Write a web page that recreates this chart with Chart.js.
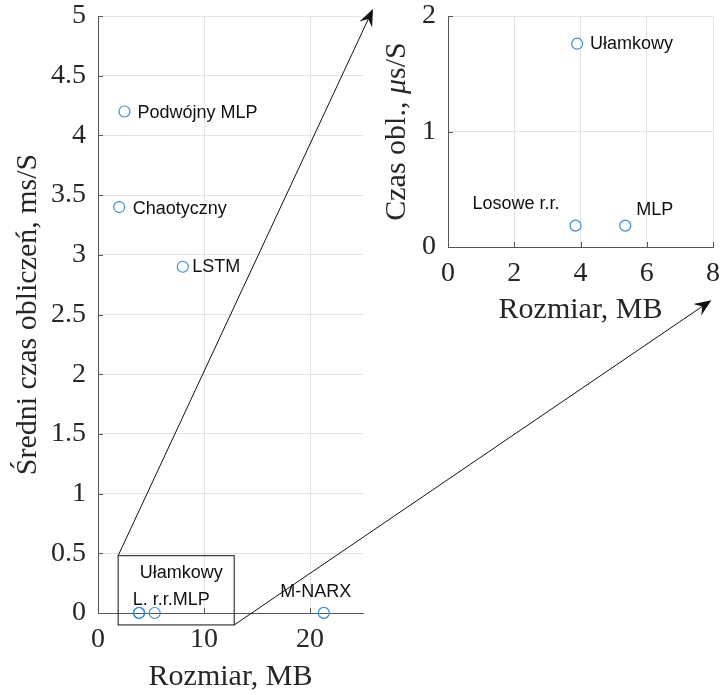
<!DOCTYPE html>
<html>
<head>
<meta charset="utf-8">
<script src="https://cdn.jsdelivr.net/npm/chart.js@4.4.1/dist/chart.umd.min.js"></script>
<style>
  body { margin: 0; background: #fff; }
  #wrap { position: relative; width: 720px; height: 695px; }
  #mainChart { position: absolute; left: 0; top: 0; }
  #insetChart { position: absolute; left: 360px; top: 0; }
</style>
</head>
<body>
<div id="wrap">
  <canvas id="mainChart" width="720" height="695"></canvas>
  <canvas id="insetChart" width="360" height="330"></canvas>
</div>
<script>
// models: size [MB] and mean computation time [ms/S]
var models  = ['Podwójny MLP', 'Chaotyczny', 'LSTM', 'Ułamkowy', 'Losowe r.r.', 'MLP', 'M-NARX'];
var sizesMB = [2.5, 2.0, 8.0, 3.9, 3.85, 5.35, 21.3];
var timesMs = [4.2, 3.4, 2.9, 0.00176, 0.000185, 0.000185, 0.001];

var mainXTicks  = [0, 10, 20];
var mainYTicks  = [0, 0.5, 1, 1.5, 2, 2.5, 3, 3.5, 4, 4.5, 5];
var insetXTicks = [0, 2, 4, 6, 8];
var insetYTicks = [0, 1, 2];

// text annotations, [text, x, y] in data units (left-anchored)
var mainLabels = [
    ['Podwójny MLP', 3.72, 4.19],
    ['Chaotyczny', 3.28, 3.38],
    ['LSTM', 8.88, 2.9],
    ['Ułamkowy', 3.94, 0.333],
    ['L. r.r.MLP', 3.28, 0.106],
    ['M-NARX', 17.2, 0.176]
];
var insetLabels = [
    ['Ułamkowy', 4.29, 1.76],
    ['Losowe r.r.', 0.74, 0.37],
    ['MLP', 5.68, 0.32]
];

// zoomed region drawn as a box on the main axes: [xmin, xmax, ymin, ymax]
var zoomBox = [1.9, 12.85, -0.1, 0.48];
// arrow tips in normalized figure units (from top-left)
var arrowTips = [[0.518, 0.013], [0.988, 0.432]];

var serif = "'Liberation Serif', 'Times New Roman', serif";
var sans = "'Liberation Sans', Arial, sans-serif";
var ink = '#262626';
var markerColor = '#3b8cd3';

// points of the inset: the fast models, converted to µs
var insetX = [], insetY = [];
sizesMB.forEach(function(s, i){
    if (s <= 8 && timesMs[i] < 0.01) {
        insetX.push(s);
        insetY.push(timesMs[i] * 1000);
    }
});

function toPoints(xs, ys){
    return xs.map(function(x, i){ return {x: x, y: ys[i]}; });
}

function axisOpts(min, max, tickList, size, isY, titleText, titlePad){
    return {
        type: 'linear',
        min: min,
        max: max,
        afterBuildTicks: function(scale){
            scale.ticks = tickList.map(function(v){ return {value: v}; });
        },
        afterFit: function(scale){
            if (isY) scale.width = size; else scale.height = size;
            // plot area is set by layout padding only
            scale.paddingTop = scale.paddingBottom = 0;
            scale.paddingLeft = scale.paddingRight = 0;
        },
        grid: { color: '#e3e3e3', lineWidth: 1, drawTicks: false },
        border: { color: '#555', width: 1 },
        ticks: {
            color: ink,
            padding: isY ? 12 : 13,
            font: { family: serif, size: 28, lineHeight: 1 },
            maxRotation: 0,
            callback: function(v){ return String(v); }
        },
        title: {
            display: !!titleText,
            text: titleText,
            color: ink,
            font: { family: serif, size: 30, lineHeight: 1.2 },
            padding: titlePad
        }
    };
}

// short tick marks pointing into the plot
var inwardTicks = {
    id: 'inwardTicks',
    beforeDatasetsDraw: function(chart){
        var ctx = chart.ctx, a = chart.chartArea;
        var xs = chart.scales.x, ys = chart.scales.y;
        ctx.save();
        ctx.strokeStyle = '#555';
        ctx.lineWidth = 1;
        ctx.beginPath();
        xs.ticks.forEach(function(t){
            var px = Math.round(xs.getPixelForValue(t.value)) + 0.5;
            ctx.moveTo(px, a.bottom);
            ctx.lineTo(px, a.bottom - 5);
        });
        ys.ticks.forEach(function(t){
            var py = Math.round(ys.getPixelForValue(t.value)) + 0.5;
            ctx.moveTo(a.left, py);
            ctx.lineTo(a.left + 5, py);
        });
        ctx.stroke();
        ctx.restore();
    }
};

function drawLabels(chart, labels){
    var ctx = chart.ctx;
    var xs = chart.scales.x, ys = chart.scales.y;
    ctx.save();
    ctx.fillStyle = '#111';
    ctx.font = '18px ' + sans;
    ctx.textAlign = 'left';
    ctx.textBaseline = 'middle';
    labels.forEach(function(l){
        ctx.fillText(l[0], xs.getPixelForValue(l[1]), ys.getPixelForValue(l[2]));
    });
    ctx.restore();
}

function drawArrow(ctx, x0, y0, x1, y1){
    var ang = Math.atan2(y1 - y0, x1 - x0);
    var len = 17, half = 7, notch = 11;
    var c = Math.cos(ang), s = Math.sin(ang);
    ctx.beginPath();
    ctx.moveTo(x0, y0);
    ctx.lineTo(x1 - c * notch, y1 - s * notch);
    ctx.stroke();
    ctx.beginPath();
    ctx.moveTo(x1, y1);
    ctx.lineTo(x1 - c * len - s * half, y1 - s * len + c * half);
    ctx.lineTo(x1 - c * notch, y1 - s * notch);
    ctx.lineTo(x1 - c * len + s * half, y1 - s * len - c * half);
    ctx.closePath();
    ctx.fill();
}

var mainAnnotations = {
    id: 'mainAnnotations',
    afterDatasetsDraw: function(chart){
        var ctx = chart.ctx;
        var xs = chart.scales.x, ys = chart.scales.y;
        drawLabels(chart, mainLabels);

        var bx0 = xs.getPixelForValue(zoomBox[0]), bx1 = xs.getPixelForValue(zoomBox[1]);
        var by0 = ys.getPixelForValue(zoomBox[2]), by1 = ys.getPixelForValue(zoomBox[3]);
        ctx.save();
        ctx.strokeStyle = '#111';
        ctx.fillStyle = '#111';
        ctx.lineWidth = 1;
        ctx.strokeRect(bx0, by1, bx1 - bx0, by0 - by1);

        var W = chart.width, H = chart.height;
        drawArrow(ctx, bx0, by1, arrowTips[0][0] * W, arrowTips[0][1] * H);
        drawArrow(ctx, bx1, by0, arrowTips[1][0] * W, arrowTips[1][1] * H);
        ctx.restore();
    }
};

var insetAnnotations = {
    id: 'insetAnnotations',
    afterDatasetsDraw: function(chart){
        drawLabels(chart, insetLabels);
        // y title with italic mu
        var ctx = chart.ctx;
        var parts = [
            {text: 'Czas obl., ', font: '30px ' + serif},
            {text: 'μ', font: 'italic 30px ' + serif},
            {text: 's/S', font: '30px ' + serif}
        ];
        var total = 0;
        parts.forEach(function(p){ ctx.font = p.font; p.w = ctx.measureText(p.text).width; total += p.w; });
        var ya = chart.chartArea;
        ctx.save();
        ctx.translate(37, (ya.top + ya.bottom) / 2);
        ctx.rotate(-Math.PI / 2);
        ctx.fillStyle = ink;
        ctx.textBaseline = 'middle';
        ctx.textAlign = 'left';
        var x = -total / 2;
        parts.forEach(function(p){ ctx.font = p.font; ctx.fillText(p.text, x, 0); x += p.w; });
        ctx.restore();
    }
};

function scatterSet(points){
    return {
        data: points,
        showLine: false,
        pointStyle: 'circle',
        pointRadius: 5.5,
        pointBorderWidth: 1.2,
        pointBorderColor: markerColor,
        pointBackgroundColor: 'rgba(0,0,0,0)',
        clip: false
    };
}

new Chart(document.getElementById('mainChart'), {
    type: 'scatter',
    data: { datasets: [scatterSet(toPoints(sizesMB, timesMs))] },
    options: {
        responsive: false,
        animation: false,
        layout: { padding: { top: 16, right: 357, bottom: 0, left: 0 } },
        plugins: { legend: { display: false }, tooltip: { enabled: false } },
        scales: {
            x: axisOpts(0, 25, mainXTicks, 82, false, 'Rozmiar, MB', { top: 0, bottom: 0 }),
            y: axisOpts(0, 5, mainYTicks, 98, true, 'Średni czas obliczeń, ms/S', { top: 10, bottom: 0 })
        }
    },
    plugins: [inwardTicks, mainAnnotations]
});

new Chart(document.getElementById('insetChart'), {
    type: 'scatter',
    data: { datasets: [scatterSet(toPoints(insetX, insetY))] },
    options: {
        responsive: false,
        animation: false,
        layout: { padding: { top: 16, right: 7, bottom: 0, left: 0 } },
        plugins: { legend: { display: false }, tooltip: { enabled: false } },
        scales: {
            x: axisOpts(0, 8, insetXTicks, 83, false, 'Rozmiar, MB', { top: 0, bottom: 2 }),
            y: axisOpts(0, 2, insetYTicks, 88, true, '', { top: 0, bottom: 0 })
        }
    },
    plugins: [inwardTicks, insetAnnotations]
});
</script>
</body>
</html>
